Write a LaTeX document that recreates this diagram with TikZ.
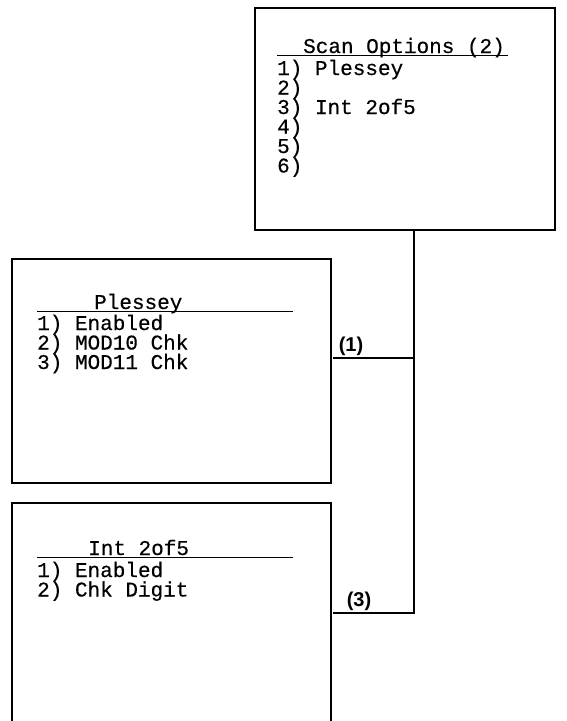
\documentclass[tikz,border=0pt]{standalone}
\usepackage{fontspec}
\setmonofont[FakeBold=0.4]{Liberation Mono}
\newfontfamily\tagfont{Liberation Sans}

\begin{document}
\begin{tikzpicture}[x=1pt,y=-1pt,
  box/.style={draw,line width=1.4pt,inner sep=0pt,minimum width=319,minimum height=224},
  txt/.style={anchor=base west,inner sep=0pt,font=\ttfamily\fontsize{21}{21}\selectfont},
  tag/.style={inner sep=0pt,font=\tagfont\bfseries\fontsize{20}{20}\selectfont},
  rule/.style={line width=1.4pt},
  link/.style={line width=1.8pt}]
\useasboundingbox (0,0) rectangle (566,721);
\clip (0,0) rectangle (566,721);
% menu boxes
\node[box,minimum width=300,minimum height=222] (scanbox) at (405,119) {};
\node[box] (plessbox) at (171.5,371) {};
\node[box] (intbox) at (171.5,615) {};
% scan options
\node[txt] (scantitle) at (303,53) {Scan Options (2)};
\draw[rule] (277,55.5)--(508,55.5);
\node[txt] (scan1) at (277,75) {1) Plessey};
\node[txt] (scan2) at (277,94.5) {2)};
\node[txt] (scan3) at (277,114) {3) Int 2of5};
\node[txt] (scan4) at (277,133.5) {4)};
\node[txt] (scan5) at (277,153) {5)};
\node[txt] (scan6) at (277,172.5) {6)};
% plessey
\node[txt] (plesstitle) at (94,309) {Plessey};
\draw[rule] (37,311.5)--(293,311.5);
\node[txt] (pless1) at (37,330) {1) Enabled};
\node[txt] (pless2) at (37,349.5) {2) MOD10 Chk};
\node[txt] (pless3) at (37,369) {3) MOD11 Chk};
% int 2of5
\node[txt] (inttitle) at (88,555) {Int 2of5};
\draw[rule] (37,557.5)--(293,557.5);
\node[txt] (int1) at (37,577) {1) Enabled};
\node[txt] (int2) at (37,596.5) {2) Chk Digit};
% links
\coordinate (trunk) at (414,0);
\coordinate (end1) at (333,358);
\coordinate (end3) at (333,613);
\draw[link] (scanbox.south -| trunk) |- (end3);
\draw[link] (trunk |- end1) -- (end1);
\node[tag] (tag1) at (351,346) {(1)};
\node[tag] (tag3) at (359,601) {(3)};
\end{tikzpicture}
\end{document}
